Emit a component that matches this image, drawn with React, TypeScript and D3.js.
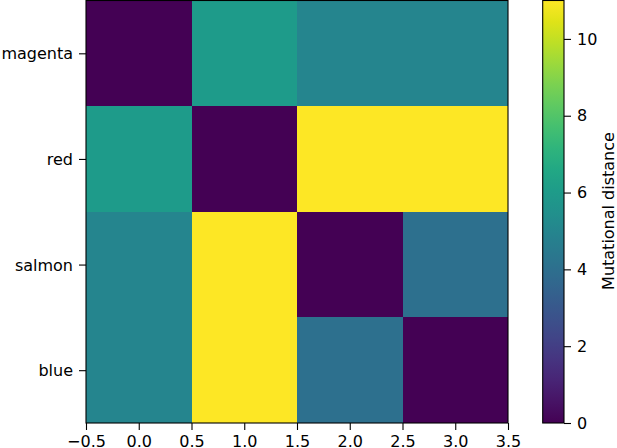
import { useEffect, useRef } from "react";
import * as d3 from "d3";

const rowLabels = ["magenta", "red", "salmon", "blue"];
const colTicks = [-0.5, 0, 0.5, 1, 1.5, 2, 2.5, 3, 3.5];
const distMagenta = [0, 6, 5, 5];
const distRed = [6, 0, 11, 11];
const distSalmon = [5, 11, 0, 4];
const distBlue = [5, 11, 4, 0];
const barTicks = [0, 2, 4, 6, 8, 10];
const vMin = 0;
const vMax = 11;

const App = () => {
  const svgRef = useRef<SVGSVGElement | null>(null);

  useEffect(() => {
    const W = 617;
    const H = 448;
    const font = "DejaVu Sans, sans-serif";
    const svg = d3.select(svgRef.current).attr("width", W).attr("height", H);
    svg.selectAll("*").remove();

    const matrix = [distMagenta, distRed, distSalmon, distBlue];
    const plot = { left: 86, right: 508, top: 0.5, bottom: 423 };

    const x = d3.scaleLinear().domain([-0.5, 3.5]).range([plot.left, plot.right]);
    const y = d3.scaleLinear().domain([-0.5, 3.5]).range([plot.top, plot.bottom]);
    const color = d3.scaleSequential(d3.interpolateViridis).domain([vMin, vMax]);

    const cells = matrix.flatMap((row, r) => row.map((v, c) => ({ r, c, v })));

    svg
      .append("g")
      .selectAll("rect")
      .data(cells)
      .enter()
      .append("rect")
      .attr("x", (d) => x(d.c - 0.5))
      .attr("y", (d) => y(d.r - 0.5))
      .attr("width", x(1) - x(0))
      .attr("height", y(1) - y(0))
      .attr("fill", (d) => color(d.v))
      .attr("shape-rendering", "crispEdges");

    const xAxis = svg
      .append("g")
      .attr("transform", `translate(0,${plot.bottom})`)
      .call(
        d3
          .axisBottom(x)
          .tickValues(colTicks)
          .tickSize(7)
          .tickPadding(6)
          .tickFormat((d) => d3.format(".1f")(d as number).replace("-", "\u2212"))
      );
    xAxis.select(".domain").remove();

    const yAxis = svg
      .append("g")
      .attr("transform", `translate(${plot.left},0)`)
      .call(
        d3
          .axisLeft(y)
          .tickValues([0, 1, 2, 3])
          .tickSize(7)
          .tickPadding(6)
          .tickFormat((d) => rowLabels[d as number])
      );
    yAxis.select(".domain").remove();

    [xAxis, yAxis].forEach((g) => {
      g.selectAll("text").attr("font-family", font).attr("font-size", 16).attr("fill", "#000");
      g.selectAll("line").attr("stroke", "#000").attr("stroke-width", 1.1);
    });
    yAxis.selectAll("text").attr("dy", "0.35em");

    svg
      .append("rect")
      .attr("x", plot.left)
      .attr("y", plot.top)
      .attr("width", plot.right - plot.left)
      .attr("height", plot.bottom - plot.top)
      .attr("fill", "none")
      .attr("stroke", "#000")
      .attr("stroke-width", 1.1);

    // colorbar
    const cb = { left: 542.7, right: 564, top: 0.5, bottom: 423 };
    const cy = d3.scaleLinear().domain([vMin, vMax]).range([cb.bottom, cb.top]);
    const defs = svg.append("defs");
    const grad = defs
      .append("linearGradient")
      .attr("id", "viridisGrad")
      .attr("x1", 0)
      .attr("y1", 1)
      .attr("x2", 0)
      .attr("y2", 0);
    d3.range(0, 1.0001, 0.05).forEach((t) => {
      grad
        .append("stop")
        .attr("offset", t)
        .attr("stop-color", d3.interpolateViridis(t));
    });
    svg
      .append("rect")
      .attr("x", cb.left)
      .attr("y", cb.top)
      .attr("width", cb.right - cb.left)
      .attr("height", cb.bottom - cb.top)
      .attr("fill", "url(#viridisGrad)")
      .attr("stroke", "#000")
      .attr("stroke-width", 1.1);

    const cAxis = svg
      .append("g")
      .attr("transform", `translate(${cb.right},0)`)
      .call(d3.axisRight(cy).tickValues(barTicks).tickSize(7).tickPadding(6));
    cAxis.select(".domain").remove();
    cAxis.selectAll("text").attr("font-family", font).attr("font-size", 16).attr("fill", "#000");
    cAxis.selectAll("line").attr("stroke", "#000").attr("stroke-width", 1.1);

    svg
      .append("text")
      .attr("transform", `translate(613.5,211) rotate(-90)`)
      .attr("text-anchor", "middle")
      .attr("font-family", font)
      .attr("font-size", 16)
      .attr("fill", "#000")
      .text("Mutational distance");
  }, []);

  return (
    <div style={{ position: "absolute", left: 0, top: 0 }}>
      <svg ref={svgRef}></svg>
    </div>
  );
};

export default App;
